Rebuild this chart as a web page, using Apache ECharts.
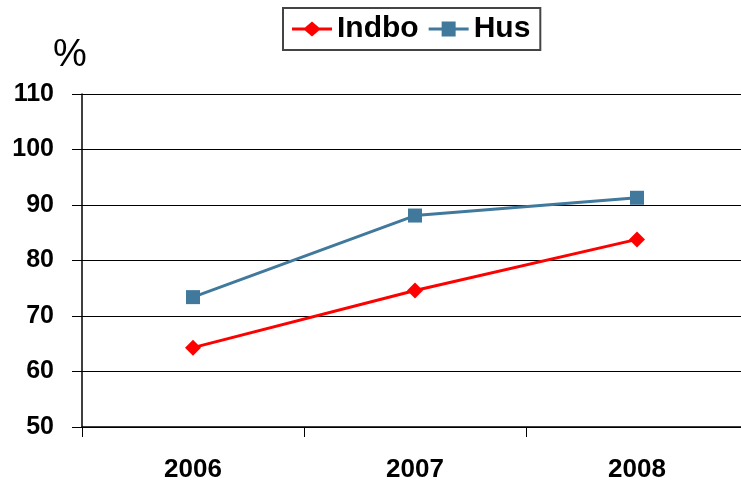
<!DOCTYPE html>
<html>
<head>
<meta charset="utf-8">
<script src="https://cdn.jsdelivr.net/npm/echarts@6/dist/echarts.min.js"></script>
<style>
  html, body { margin: 0; padding: 0; background: #fff; }
  #chart { width: 741px; height: 489px; }
</style>
</head>
<body>
<div id="chart"></div>
<script>
// år og værdier (%)
var years = ['2006', '2007', '2008'];
var indbo = [64.3, 74.6, 83.8];
var hus = [73.4, 88.1, 91.3];
var yTicks = [50, 60, 70, 80, 90, 100, 110];

var font = '"Liberation Sans", Arial, sans-serif';
// legend icons: thick line with the marker on it
var iconDiamond = 'path://M0,6L13,6L20,0L27,6L40,6L40,9L27,9L20,15L13,9L0,9Z';
var iconSquare = 'path://M0,6L13,6L13,0L27,0L27,6L40,6L40,9L27,9L27,15L13,15L13,9L0,9Z';

var chart = echarts.init(document.getElementById('chart'));

var option = {
  backgroundColor: '#fff',
  animation: false,
  title: {
    text: '%',
    left: 48,
    top: 32,
    textStyle: { fontFamily: font, fontSize: 38, fontWeight: 'normal', color: '#000' }
  },
  legend: {
    data: [
      { name: 'Indbo', icon: iconDiamond },
      { name: 'Hus', icon: iconSquare }
    ],
    left: 283,
    top: 8,
    padding: [6, 10, 6, 9],
    borderColor: '#444',
    borderWidth: 2,
    itemWidth: 40,
    itemHeight: 15,
    itemGap: 10,
    textStyle: { fontFamily: font, fontSize: 30, fontWeight: 'bold', color: '#000' }
  },
  // plot runs a little past the right edge, like the original
  grid: { left: 82, width: 666, top: 94, bottom: 62, outerBoundsMode: 'none', containLabel: false },
  xAxis: {
    type: 'category',
    data: years,
    boundaryGap: true,
    axisLine: { lineStyle: { color: '#000', width: 1.5 } },
    axisTick: { show: true, length: 10, lineStyle: { color: '#000' } },
    axisLabel: { margin: 30, fontFamily: font, fontSize: 26, fontWeight: 'bold', color: '#000' }
  },
  yAxis: {
    type: 'value',
    min: yTicks[0],
    max: yTicks[yTicks.length - 1],
    interval: 10,
    axisLine: { show: true, lineStyle: { color: '#000', width: 1.5 } },
    axisTick: { show: true, length: 10, lineStyle: { color: '#000' } },
    splitLine: { lineStyle: { color: '#000', width: 1 } },
    axisLabel: { margin: 28, fontFamily: font, fontSize: 25, fontWeight: 'bold', color: '#000' }
  },
  series: [
    {
      name: 'Indbo',
      type: 'line',
      data: indbo,
      symbol: 'diamond',
      symbolSize: 16,
      color: '#FF0000',
      lineStyle: { width: 3, color: '#FF0000' },
      itemStyle: { color: '#FF0000' }
    },
    {
      name: 'Hus',
      type: 'line',
      data: hus,
      symbol: 'rect',
      symbolSize: 14,
      color: '#41799C',
      lineStyle: { width: 3, color: '#41799C' },
      itemStyle: { color: '#41799C' }
    }
  ]
};

chart.setOption(option);
</script>
</body>
</html>
